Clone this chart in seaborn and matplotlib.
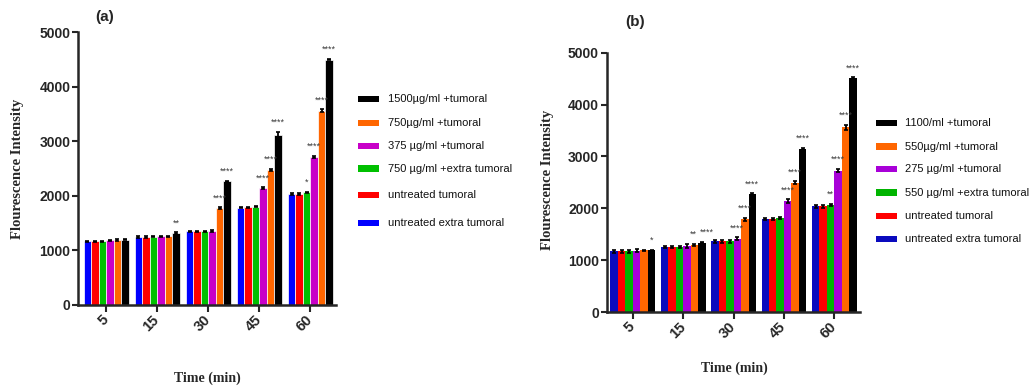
import numpy as np
import pandas as pd
import matplotlib
matplotlib.use("Agg")
import matplotlib.pyplot as plt
from matplotlib import font_manager as fm
from matplotlib.patches import Rectangle
import seaborn as sns

# ---- data -------------------------------------------------------------
times = ["5", "15", "30", "45", "60"]

groups_a = ["untreated extra tumoral", "untreated tumoral", "750 µg/ml +extra tumoral",
            "375 µg/ml +tumoral", "750µg/ml +tumoral", "1500µg/ml +tumoral"]
groups_b = ["untreated extra tumoral", "untreated tumoral", "550 µg/ml +extra tumoral",
            "275 µg/ml +tumoral", "550µg/ml +tumoral", "1100/ml +tumoral"]

# panel (a) means per group, one value per time point
a_untreated_extra = [1165, 1245, 1350, 1785, 2040]
a_untreated_tum = [1165, 1245, 1350, 1790, 2040]
a_750_extra = [1165, 1250, 1350, 1800, 2065]
a_375_tum = [1185, 1260, 1355, 2140, 2720]
a_750_tum = [1190, 1260, 1775, 2480, 3560]
a_1500_tum = [1195, 1320, 2265, 3125, 4500]

# panel (b) means per group
b_untreated_extra = [1170, 1250, 1360, 1790, 2040]
b_untreated_tum = [1170, 1255, 1360, 1790, 2040]
b_550_extra = [1170, 1255, 1360, 1805, 2065]
b_275_tum = [1185, 1275, 1415, 2140, 2725]
b_550_tum = [1190, 1290, 1785, 2490, 3565]
b_1100_tum = [1190, 1340, 2270, 3140, 4510]

# error bar half-lengths
a_err = [[12, 12, 12, 15, 15],
         [12, 12, 12, 15, 15],
         [12, 12, 12, 12, 15],
         [12, 12, 12, 20, 20],
         [12, 12, 20, 20, 25],
         [10, 12, 15, 50, 15]]
b_err = [[25, 25, 25, 25, 25],
         [25, 25, 25, 25, 25],
         [25, 25, 25, 20, 25],
         [25, 40, 25, 30, 35],
         [10, 25, 30, 30, 50],
         [10, 10, 15, 30, 15]]

# significance marks
a_stars = [["", "", "", "", ""],
           ["", "", "", "", ""],
           ["", "", "", "", "*"],
           ["", "", "", "****", "****"],
           ["", "", "****", "****", "****"],
           ["", "**", "****", "****", "****"]]
b_stars = [["", "", "", "", ""],
           ["", "", "", "", ""],
           ["", "", "", "", "**"],
           ["", "", "****", "****", "****"],
           ["", "**", "****", "****", "****"],
           ["*", "****", "****", "****", "****"]]
# sideways nudges (points) for marks that would collide
a_star_dx = {}
b_star_dx = {(4, 1): -1.0, (5, 1): 3.5}

colors_a = ["#0000FF", "#FF0000", "#00C000", "#C800C8", "#FF6600", "#000000"]
colors_b = ["#0A0ABE", "#FF0000", "#00B400", "#A800D8", "#FF6600", "#000000"]

# ---- style ------------------------------------------------------------
sns.set_style("ticks")
names = {f.name for f in fm.fontManager.ttflist}
sans = "Liberation Sans Narrow" if "Liberation Sans Narrow" in names else "Liberation Sans"
plt.rcParams["font.family"] = [sans, "DejaVu Sans"]
plt.rcParams["axes.linewidth"] = 1.8

W, H = 1030, 387
fig = plt.figure(figsize=(W / 100, H / 100), dpi=100)


def panel(ax, series, groups, colors, errs, stars, star_dx, width, xlim, edge):
    rows = []
    for g, vals in zip(groups, series):
        for t, v in zip(times, vals):
            rows.append({"time": t, "group": g, "value": v})
    df = pd.DataFrame(rows)
    sns.barplot(data=df, x="time", y="value", hue="group", order=times,
                hue_order=groups, palette=colors, errorbar=None, width=width,
                edgecolor=edge if edge else "none", linewidth=0.5 if edge else 0,
                legend=False, saturation=1, ax=ax)
    bar_sets = list(ax.containers)
    for gi, cont in enumerate(bar_sets):
        for bar in cont.patches:
            xc = bar.get_x() + bar.get_width() / 2
            h = bar.get_height()
            ti = int(round(xc))
            e = errs[gi][ti]
            ax.errorbar(xc, h, yerr=e, fmt="none", ecolor="black",
                        elinewidth=1.3, capsize=1.6, capthick=1.2, zorder=4)
            s = stars[gi][ti]
            if s:
                dx = star_dx.get((gi, ti), 0.0)
                ax.annotate(s, (xc, h + e), xytext=(dx, 3.5), textcoords="offset points",
                            ha="center", va="bottom", fontsize=6.5, color="#3a3a3a",
                            family="Liberation Sans", zorder=6)
    ax.set_ylim(0, 5000)
    ax.set_xlim(*xlim)
    ax.set_yticks([0, 1000, 2000, 3000, 4000, 5000])
    ax.set_xlabel("")
    ax.set_ylabel("")
    sns.despine(ax=ax)
    ax.tick_params(axis="y", length=4, width=1.5, pad=1.5, labelsize=10)
    ax.tick_params(axis="x", length=5, width=1.5, pad=4, labelsize=10.5)
    for lab in ax.get_yticklabels():
        lab.set_fontweight("bold")
    for lab in ax.get_xticklabels():
        lab.set_fontweight("bold")
        lab.set_rotation(45)
        lab.set_ha("right")
        lab.set_va("center")
        lab.set_rotation_mode("anchor")


ax_a = fig.add_axes([78 / W, 1 - 305 / H, (336 - 78) / W, (305 - 32.3) / H])
panel(ax_a,
      [a_untreated_extra, a_untreated_tum, a_750_extra, a_375_tum, a_750_tum, a_1500_tum],
      groups_a, colors_a, a_err, a_stars, a_star_dx, 0.88, (-0.55, 4.5), "white")

ax_b = fig.add_axes([606.7 / W, 1 - 312 / H, (860 - 606.7) / W, (312 - 52.7) / H])
panel(ax_b,
      [b_untreated_extra, b_untreated_tum, b_550_extra, b_275_tum, b_550_tum, b_1100_tum],
      groups_b, colors_b, b_err, b_stars, b_star_dx, 0.89, (-0.52, 4.51), None)

# panel letters
fig.text(105 / W, 1 - 17 / H, "(a)", ha="center", va="center", fontsize=11,
         fontweight="bold", family="Liberation Sans")
fig.text(635 / W, 1 - 21.7 / H, "(b)", ha="center", va="center", fontsize=11,
         fontweight="bold", family="Liberation Sans")

# axis titles
serif = dict(family="Liberation Serif", fontweight="bold", fontsize=10.5)
fig.text(18 / W, 1 - 169 / H, "Flourescence Intensity", rotation=90,
         ha="center", va="center", **serif)
fig.text(548 / W, 1 - 180 / H, "Flourescence Intensity", rotation=90,
         ha="center", va="center", **serif)
fig.text(207 / W, 1 - 378 / H, "Time (min)", ha="center", va="center",
         family="Liberation Serif", fontweight="bold", fontsize=10)
fig.text(734 / W, 1 - 368 / H, "Time (min)", ha="center", va="center",
         family="Liberation Serif", fontweight="bold", fontsize=10)

# legends (top entry is the highest dose)
def legend(groups, colors, x_patch, x_text, ys):
    for g, c, y in zip(groups[::-1], colors[::-1], ys):
        fig.add_artist(Rectangle((x_patch / W, 1 - (y + 3) / H), 21 / W, 6.5 / H,
                                 transform=fig.transFigure, facecolor=c,
                                 edgecolor="none"))
        fig.text(x_text / W, 1 - y / H, g, ha="left", va="center", fontsize=8,
                 family="Liberation Sans", color="#111111")


legend(groups_a, colors_a, 358, 388, [99.3, 123.3, 146, 168.7, 195, 223.3])
legend(groups_b, colors_b, 876, 905, [123.3, 146.7, 169.3, 192.7, 216, 239.3])

fig.savefig("out.png", dpi=100)
